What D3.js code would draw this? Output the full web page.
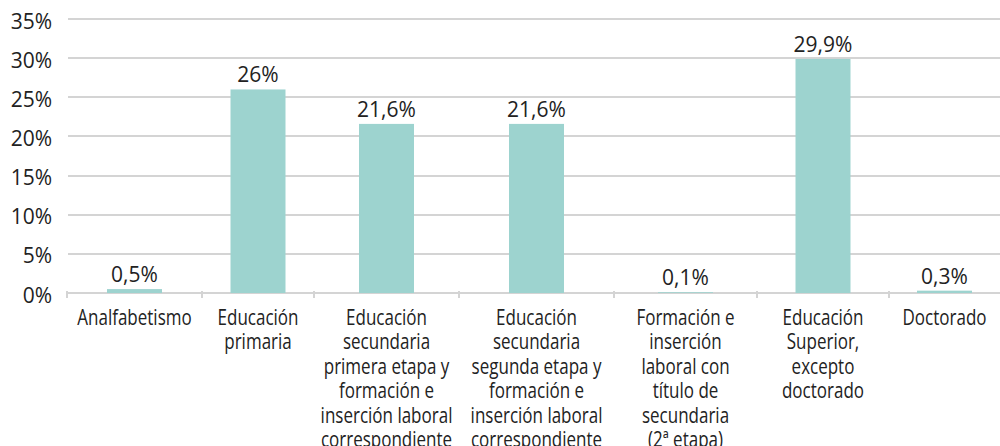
<!DOCTYPE html>
<meta charset="utf-8">
<title>Nivel educativo</title>
<style type="text/css">
body {
  margin: 0;
  background: #fff;
}
.grid line {
  stroke: #d4d4d4;
  stroke-width: 1.4;
  shape-rendering: crispEdges;
}
.ylab, .vlab, .clab {
  font-family: "Open Sans", sans-serif;
  font-size: 21px;
  fill: #222;
}
</style>
<body>
<script src="https://cdn.jsdelivr.net/npm/d3@7"></script>
<script>
// data
var categories = ["Analfabetismo", "Educación primaria",
  "Educación secundaria primera etapa y formación e inserción laboral correspondiente",
  "Educación secundaria segunda etapa y formación e inserción laboral correspondiente",
  "Formación e inserción laboral con título de secundaria (2ª etapa)",
  "Educación Superior, excepto doctorado", "Doctorado"];
var tickLines = [
  ["Analfabetismo"],
  ["Educación", "primaria"],
  ["Educación", "secundaria", "primera etapa y", "formación e", "inserción laboral", "correspondiente"],
  ["Educación", "secundaria", "segunda etapa y", "formación e", "inserción laboral", "correspondiente"],
  ["Formación e", "inserción", "laboral con", "título de", "secundaria", "(2ª etapa)"],
  ["Educación", "Superior,", "excepto", "doctorado"],
  ["Doctorado"]
];
var values = [0.5, 26, 21.6, 21.6, 0.1, 29.9, 0.3];
var valueLabels = ["0,5%", "26%", "21,6%", "21,6%", "0,1%", "29,9%", "0,3%"];
var yTicks = [0, 5, 10, 15, 20, 25, 30, 35];

// layout (column widths are uneven in the original)
var width = 1000, height = 446;
var mLeft = 67, mRight = 1000, mTop = 19, mBottom = 293;
var colWidths = [135, 112, 145, 155, 143, 132, 111];
var barW = 55;
var lineH = 24.5;

var svg = d3.select("body").append("svg")
  .attr("width", width).attr("height", height);

var starts = [];
var acc = 0;
for (var i = 0; i < colWidths.length; i++) {
  starts.push(acc);
  acc += colWidths[i];
}
starts.push(acc);

var xScale = d3.scaleLinear().domain([0, acc]).range([mLeft, mRight]);
var yScale = d3.scaleLinear().domain([0, 35]).range([mBottom, mTop]);

function center(i) {
  return (xScale(starts[i]) + xScale(starts[i + 1])) / 2;
}

// gridlines
svg.append("g").attr("class", "grid")
  .selectAll("line")
  .data(yTicks)
  .enter()
  .append("line")
  .attr("x1", mLeft + 1).attr("x2", mRight)
  .attr("y1", d => Math.round(yScale(d)))
  .attr("y2", d => Math.round(yScale(d)));

// axis ticks
svg.append("g").attr("class", "grid")
  .selectAll("line")
  .data(starts.slice(0, starts.length - 1))
  .enter()
  .append("line")
  .attr("x1", d => Math.round(xScale(d))).attr("x2", d => Math.round(xScale(d)))
  .attr("y1", mBottom - 2).attr("y2", mBottom + 5);

// y labels
svg.selectAll(".ylab")
  .data(yTicks)
  .enter()
  .append("text")
  .attr("class", "ylab")
  .attr("x", 52)
  .attr("y", d => yScale(d) + 9.5)
  .attr("text-anchor", "end")
  .text(d => d + "%");

// bars
svg.selectAll(".bar")
  .data(values)
  .enter()
  .append("rect")
  .attr("class", "bar")
  .attr("x", (d, i) => center(i) - barW / 2)
  .attr("y", d => yScale(d))
  .attr("width", barW)
  .attr("height", d => mBottom - yScale(d))
  .attr("fill", "#9dd3cf");

// value labels
svg.selectAll(".vlab")
  .data(values)
  .enter()
  .append("text")
  .attr("class", "vlab")
  .attr("x", (d, i) => center(i))
  .attr("y", d => yScale(d) - 7)
  .attr("text-anchor", "middle")
  .text((d, i) => valueLabels[i]);

// category labels (condensed look)
var cl = svg.selectAll(".clab")
  .data(tickLines)
  .enter()
  .append("text")
  .attr("class", "clab")
  .attr("text-anchor", "middle")
  .attr("transform", (d, i) => "translate(" + center(i) + ",325) scale(0.81,1)");

cl.selectAll("tspan")
  .data(d => d)
  .enter()
  .append("tspan")
  .attr("x", 0)
  .attr("dy", (d, j) => j == 0 ? 0 : lineH)
  .text(d => d);
</script>
</body>
</html>
